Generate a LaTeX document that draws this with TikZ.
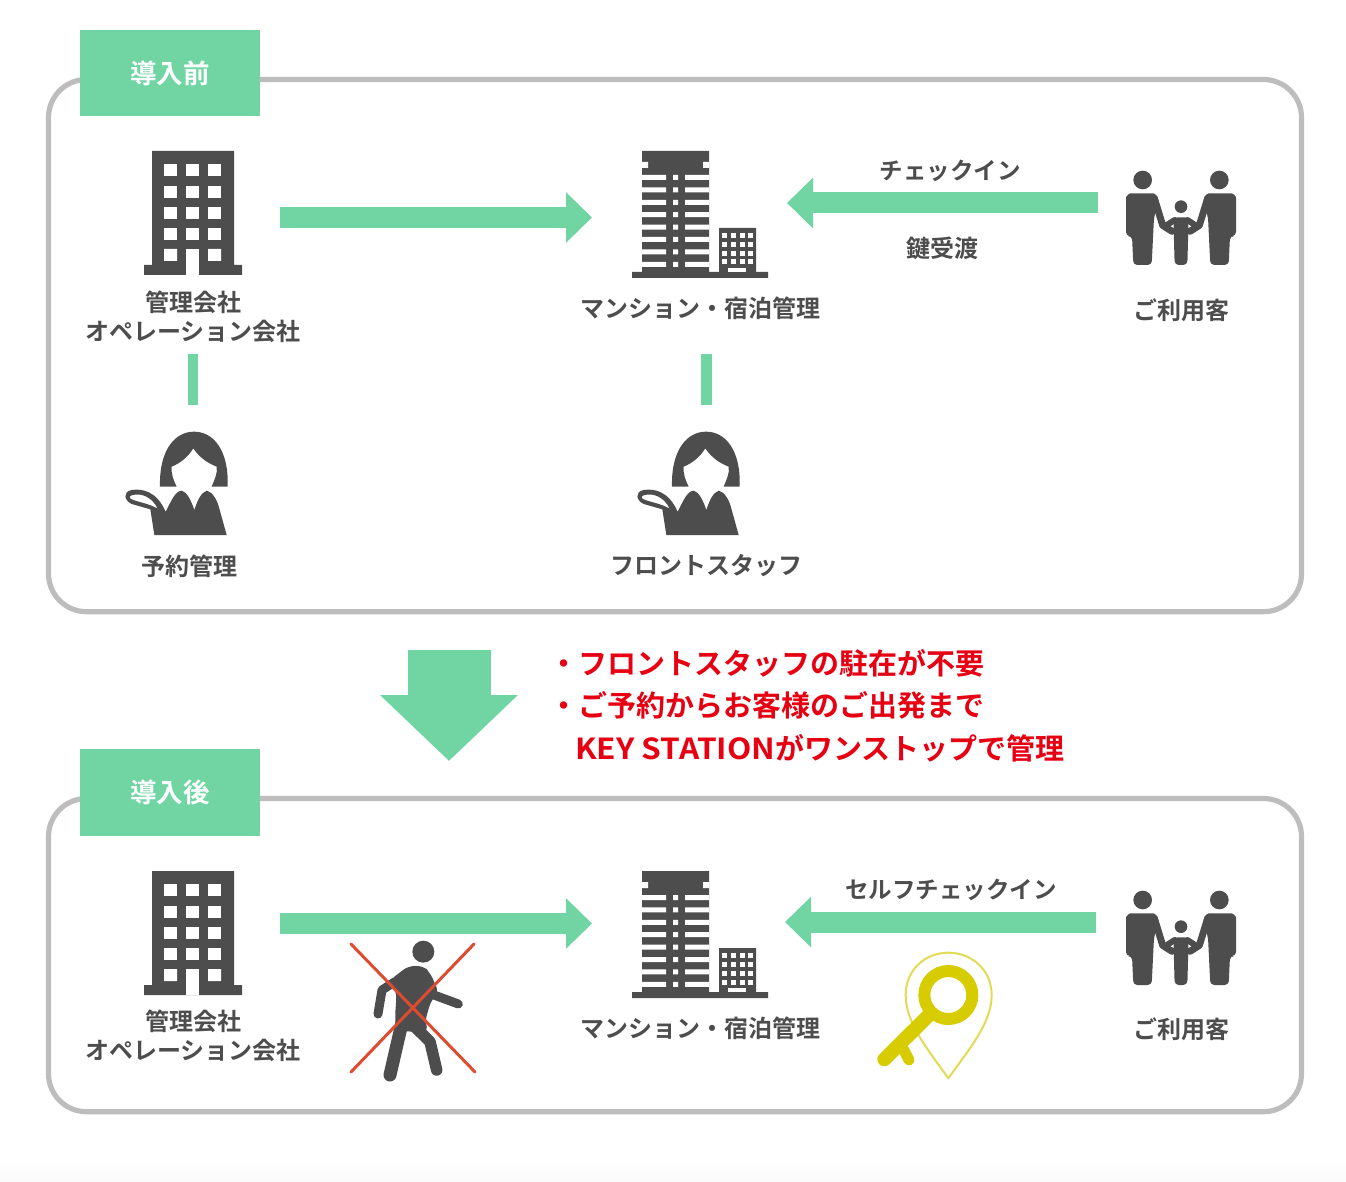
\documentclass[tikz,border=0pt]{standalone}
\usepackage{fontspec}
\setmainfont{Noto Sans CJK JP}[BoldFont=* Bold]
\usetikzlibrary{arrows.meta}
\definecolor{icongray}{HTML}{4D4D4D}
\definecolor{tagteal}{HTML}{70D5A3}
\definecolor{panelgray}{HTML}{BDBDBD}
\definecolor{notered}{HTML}{E60012}
\definecolor{crossred}{HTML}{DD4B30}
\definecolor{keygold}{HTML}{D6CC00}
\definecolor{pinlight}{HTML}{E2DB55}
\newcommand{\adultshape}{%
  \fill[icongray] (98,60) circle (28);
  \fill[icongray, rounded corners=4pt] (48,228) -- (48,125) .. controls (48,108) and (58,100) .. (74,100) -- (118,100) .. controls (134,100) and (142,108) .. (147,122) -- (132,172) -- (125,315) -- (70,315) -- (66,228) -- cycle;
  \draw[icongray, line width=7pt, line cap=round, line join=round] (134,118) -- (158,196) -- (186,214);
}
\tikzset{
  panel/.style={draw=panelgray, line width=5.2pt, rounded corners=38pt},
  tagbox/.style={fill=tagteal, minimum width=180pt, minimum height=86.5pt, inner sep=0pt},
  tagtext/.style={text=white, font=\fontsize{26.5}{26.5}\selectfont\bfseries},
  lbl/.style={text=icongray, inner sep=0pt, align=center, font=\fontsize{24}{29}\selectfont\bfseries},
  arrowlbl/.style={text=icongray, inner sep=0pt, font=\fontsize{23.5}{24}\selectfont\bfseries},
  notetext/.style={text=notered, inner sep=0pt, anchor=west, font=\fontsize{29}{29}\selectfont\bfseries},
  flow/.style={draw=tagteal, line width=21pt, -{Triangle[length=26pt,width=49pt]}},
  tie/.style={draw=tagteal, line width=10.5pt},
  hotel/.pic={
    \fill[icongray] (8,0) rectangle (90,114) (0,114) rectangle (98,124);
    \fill[white] (42,98) rectangle (55,124);
    \foreach \wx in {20,42,64} \foreach \wy in {13,35,56,77} \fill[white] (\wx,\wy) rectangle +(13,12);
    \fill[white] (20,98) rectangle +(13,12) (64,98) rectangle +(13,12);
  },
  tower/.pic={
    \fill[icongray] (10,0) rectangle (77,127) (0,121) rectangle (136,127) (87,77) rectangle (124,121);
    \fill[white] (10,11) rectangle (16,17) (71,11) rectangle (77,17);
    \foreach \fy in {24,36.4,48.8,61.2,73.6,86,98.4,110.8} {
      \fill[white] (10,\fy) rectangle (34,\fy+5) (53,\fy) rectangle (77,\fy+5) (41,\fy) rectangle (46,\fy+5);
    }
    \foreach \wx in {90,99,108,115.5} \foreach \wy in {82,91,100,108.5} \fill[white] (\wx,\wy) rectangle +(5,5);
    \fill[white] (96,117) rectangle (114,121);
  },
  family/.pic={
    \begin{scope}[scale=1/3]
      \adultshape
      \begin{scope}[shift={(426,0)}, xscale=-1]
        \adultshape
      \end{scope}
      \fill[icongray] (213,140) circle (19);
      \fill[icongray, rounded corners=4pt] (190,172) -- (236,172) -- (232,315) -- (194,315) -- cycle;
      \draw[icongray, line width=6pt, line cap=round, line join=round] (194,180) -- (166,198) (232,180) -- (260,198);
    \end{scope}
  },
  staff/.pic={
    \begin{scope}[scale=1/3]
      \fill[icongray] (135,200) .. controls (132,90) and (180,35) .. (237,35) .. controls (295,35) and (342,90) .. (338,200) -- (290,200) .. controls (300,175) and (308,160) .. (305,140) .. controls (280,130) and (255,115) .. (235,85) .. controls (218,112) and (195,130) .. (170,140) .. controls (168,160) and (175,180) .. (185,200) -- cycle;
      \fill[icongray, even odd rule] (118,345) -- (106,268) -- (50,252) .. controls (28,242) and (22,215) .. (50,210) .. controls (85,205) and (125,215) .. (152,275) -- (170,240) .. controls (180,222) and (190,212) .. (200,212) .. controls (215,215) and (228,240) .. (238,270) .. controls (248,240) and (258,218) .. (275,212) .. controls (290,215) and (305,235) .. (312,262) -- (335,345) -- cycle
      (50,226) .. controls (75,218) and (110,228) .. (128,266) .. controls (100,250) and (75,248) .. (50,238) .. controls (42,234) and (42,229) .. (50,226) -- cycle;
    \end{scope}
  },
  walker/.pic={
    \begin{scope}[scale=1/3]
      \fill[icongray] (250,65) circle (33);
      \fill[icongray, rounded corners=6pt] (150,150) -- (205,108) -- (250,108) -- (270,128) -- (296,185) -- (272,215) -- (255,275) -- (265,305) -- (207,305) -- (168,300) -- (165,262) -- (170,190) -- cycle;
      \draw[icongray, line width=13pt, line cap=round] (188,270) -- (150,435);
      \draw[icongray, line width=11.5pt, line cap=round, line join=round] (224,290) -- (270,335) -- (290,420);
      \draw[icongray, line width=9pt, line cap=round, line join=round] (165,155) -- (126,180) -- (114,252);
      \draw[icongray, line width=9pt, line cap=round] (282,195) -- (355,222);
    \end{scope}
  },
  keymark/.pic={
    \begin{scope}[scale=1/3]
      \draw[pinlight, line width=2pt, line join=round] (250,415) .. controls (190,330) and (122,250) .. (122,165) .. controls (122,90) and (180,38) .. (250,38) .. controls (320,38) and (380,90) .. (380,165) .. controls (380,250) and (310,330) .. (250,415) -- cycle;
      \draw[keygold, line width=12pt] (250,165) circle (72);
      \draw[keygold, line width=14pt, line cap=round] (192,225) -- (58,358);
      \draw[keygold, line width=11pt, line cap=round] (112,322) -- (132,360);
    \end{scope}
  },
}
\begin{document}
\begin{tikzpicture}[x=1pt, y=-1pt]
  \useasboundingbox (0,0) rectangle (1346,1182);
  \fill[white] (0,0) rectangle (1346,1182);
  \fill[top color=white, bottom color=black!2] (0,1160) rectangle (1346,1182);
  % panels
  \draw[panel] (48.5,79.5) rectangle (1301.5,611.7);
  \draw[panel] (48.5,798.5) rectangle (1301.5,1111.7);
  \node[tagbox, tagtext] (tagbefore) at (170,73) {導入前};
  \node[tagbox, tagtext] (tagafter) at (170,792.5) {導入後};
  % before
  \pic at (144,151) {hotel};
  \pic at (632,151) {tower};
  \pic at (1110,160) {family};
  \pic at (115,420) {staff};
  \pic at (627,420) {staff};
  \node[lbl] (mgmt) at (193,316.5) {管理会社\\オペレーション会社};
  \node[lbl] (mansion) at (700,308) {マンション・宿泊管理};
  \node[lbl] (guest) at (1181,310) {ご利用客};
  \node[lbl] (booking) at (189,566) {予約管理};
  \node[lbl] (front) at (706,566) {フロントスタッフ};
  \node[arrowlbl] (checkin) at (950,171) {チェックイン};
  \node[lbl] (keyhand) at (942,248) {鍵受渡};
  \coordinate (hotelout) at (280,217.5);
  \coordinate (towerin) at (592,217.5);
  \coordinate (familyout) at (1098,203);
  \coordinate (towerright) at (787,203);
  \coordinate (mgmtlow) at (193,354);
  \coordinate (bookingtop) at (193,405);
  \coordinate (mansionlow) at (706.5,354);
  \coordinate (fronttop) at (706.5,405);
  \draw[flow] (hotelout) -- (towerin);
  \draw[flow] (familyout) -- (towerright);
  \draw[tie] (mgmtlow) -- (bookingtop);
  \draw[tie] (mansionlow) -- (fronttop);
  % transition
  \coordinate (downtop) at (449,650);
  \coordinate (downtip) at (449,761);
  \draw[draw=tagteal, line width=83pt, -{Triangle[length=66pt,width=134pt]}] (downtop) -- (downtip);
  \node[notetext] (noteone) at (549,663) {・フロントスタッフの駐在が不要};
  \node[notetext] (notetwo) at (549,705) {・ご予約からお客様のご出発まで};
  \node[notetext] (notethree) at (575,748) {\scalebox{1.09}[1]{KEY STATION}がワンストップで管理};
  % after
  \pic at (144,871) {hotel};
  \pic at (632,871) {tower};
  \pic at (1110,880) {family};
  \pic at (340,930) {walker};
  \pic at (865,940) {keymark};
  \draw[crossred, line width=3pt, line cap=round] (351,944) -- (475,1072) (474,944) -- (351,1072);
  \node[lbl] (mgmtb) at (193,1036) {管理会社\\オペレーション会社};
  \node[lbl] (mansionb) at (700,1028) {マンション・宿泊管理};
  \node[lbl] (guestb) at (1181,1029) {ご利用客};
  \node[arrowlbl] (selfcheck) at (951,890) {セルフチェックイン};
  \coordinate (hotelbout) at (280,923.5);
  \coordinate (towerbin) at (592,923.5);
  \coordinate (familybout) at (1096,922);
  \coordinate (towerbright) at (785,922);
  \draw[flow] (hotelbout) -- (towerbin);
  \draw[flow] (familybout) -- (towerbright);
\end{tikzpicture}
\end{document}
